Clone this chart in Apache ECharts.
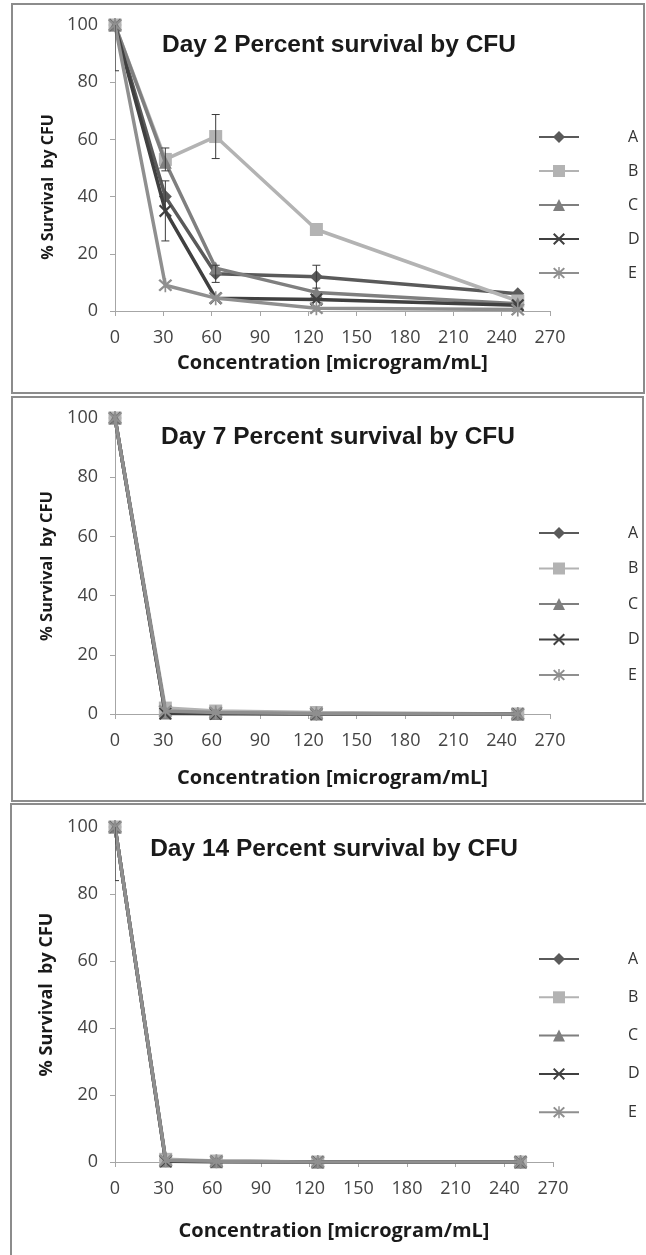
<!DOCTYPE html>
<html>
<head>
<meta charset="utf-8">
<script src="https://cdn.jsdelivr.net/npm/echarts@6/dist/echarts.min.js"></script>
<style>
  html, body { margin: 0; padding: 0; background: #fff; }
  #chart { width: 646px; height: 1255px; }
</style>
</head>
<body>
<div id="chart"></div>
<script>
  // concentration steps (microgram/mL)
  var conc = [0, 31.25, 62.5, 125, 250];
  var names = ['A', 'B', 'C', 'D', 'E'];

  // day 2
  var day2A = [100, 40, 13, 12, 6];
  var day2B = [100, 53, 61, 28.5, 3.5];
  var day2C = [100, 52, 15, 6.5, 2.5];
  var day2D = [100, 35, 4.5, 4, 2];
  var day2E = [100, 9, 4.5, 1, 0.5];
  var day2ErrA = [16, 0, 3, 4, 0];
  var day2ErrB = [0, 4, 7.7, 0, 0];
  var day2ErrD = [0, 10.5, 0, 0, 0];

  // day 7
  var day7A = [100, 0.5, 0.3, 0, 0];
  var day7B = [100, 2, 1, 0.5, 0];
  var day7C = [100, 0.3, 0.2, 0, 0];
  var day7D = [100, 0.2, 0.1, 0, 0];
  var day7E = [100, 1, 0.5, 0.2, 0];

  // day 14
  var day14A = [100, 0.5, 0.2, 0, 0];
  var day14B = [100, 0.8, 0.3, 0, 0];
  var day14C = [100, 0.3, 0.1, 0, 0];
  var day14D = [100, 0.2, 0.1, 0, 0];
  var day14E = [100, 0.5, 0.2, 0, 0];
  var day14ErrA = [16, 0, 0, 0, 0];

  var colors = ['#5a5a5a', '#b3b3b3', '#7f7f7f', '#404040', '#8f8f8f'];
  var xShape = 'path://M0,1.2L1.2,0L5,3.8L8.8,0L10,1.2L6.2,5L10,8.8L8.8,10L5,6.2L1.2,10L0,8.8L3.8,5Z';
  var starShape = 'path://M0,1.2L1.2,0L5,3.8L8.8,0L10,1.2L6.2,5L10,8.8L8.8,10L5,6.2L1.2,10L0,8.8L3.8,5Z' +
    'M4.4,-0.5L5.6,-0.5L5.6,10.5L4.4,10.5Z';
  var symbols = ['diamond', 'rect', 'triangle', xShape, starShape];
  var symSizes = [13, 13, 13, 13, 14];

  var panels = [
    {title: 'Day 2 Percent survival by CFU', top: 25, height: 286, width: 435, titleTop: 28, titleLeft: 334,
      data: [day2A, day2B, day2C, day2D, day2E], err: [day2ErrA, day2ErrB, null, day2ErrD, null],
      legendTop: 124, legendGap: 18, yNameSize: 16, yNamePad: [0, 38, 0, 0], xNameGap: 42},
    {title: 'Day 7 Percent survival by CFU', top: 418, height: 296, width: 435, titleTop: 420, titleLeft: 333,
      data: [day7A, day7B, day7C, day7D, day7E], err: [null, null, null, null, null],
      legendTop: 520, legendGap: 19.5, yNameSize: 16.5, yNamePad: 0, xNameGap: 54},
    {title: 'Day 14 Percent survival by CFU', top: 827, height: 335, width: 438, titleTop: 832, titleLeft: 329,
      data: [day14A, day14B, day14C, day14D, day14E], err: [day14ErrA, null, null, null, null],
      legendTop: 946, legendGap: 22.3, yNameSize: 18, yNamePad: 0, xNameGap: 59}
  ];

  function renderErr(params, api) {
    var x = api.value(0);
    var p1 = api.coord([x, api.value(2)]);
    var p2 = api.coord([x, api.value(1)]);
    var w = 4;
    var st = {stroke: '#3a3a3a', lineWidth: 1};
    return {
      type: 'group',
      children: [
        {type: 'line', shape: {x1: p1[0], y1: p1[1], x2: p2[0], y2: p2[1]}, style: st},
        {type: 'line', shape: {x1: p1[0] - w, y1: p1[1], x2: p1[0] + w, y2: p1[1]}, style: st},
        {type: 'line', shape: {x1: p2[0] - w, y1: p2[1], x2: p2[0] + w, y2: p2[1]}, style: st}
      ]
    };
  }

  var option = {
    animation: false,
    backgroundColor: '#fff',
    title: [], legend: [], grid: [], xAxis: [], yAxis: [], series: [],
    graphic: [
      {type: 'rect', shape: {x: 12, y: 4, width: 632, height: 389}, style: {fill: 'none', stroke: '#8c8c8c', lineWidth: 2}},
      {type: 'rect', shape: {x: 12, y: 397, width: 631, height: 404}, style: {fill: 'none', stroke: '#8c8c8c', lineWidth: 2}},
      {type: 'polyline', shape: {points: [[11, 1260], [11, 804], [650, 804]]}, style: {fill: 'none', stroke: '#8c8c8c', lineWidth: 2}}
    ]
  };

  panels.forEach(function (p, g) {
    option.title.push({
      text: p.title, left: p.titleLeft, top: p.titleTop, textAlign: 'center',
      textStyle: {fontFamily: 'Liberation Sans', fontWeight: 'bold', fontSize: 24.5, color: '#1a1a1a'}
    });
    option.legend.push({
      data: names, orient: 'vertical', left: 533, top: p.legendTop,
      itemWidth: 40, itemHeight: 15, itemGap: p.legendGap,
      textStyle: {fontFamily: 'Open Sans', fontSize: 16, color: '#333', padding: [0, 0, 0, 44], lineHeight: 16}
    });
    option.grid.push({left: 115, top: p.top, width: p.width, height: p.height, containLabel: false});
    option.xAxis.push({
      gridIndex: g, type: 'value', min: 0, max: 270, interval: 30,
      name: 'Concentration [microgram/mL]', nameLocation: 'middle', nameGap: p.xNameGap,
      nameTextStyle: {fontFamily: 'Open Sans', fontWeight: 'bold', fontSize: 20, color: '#1a1a1a'},
      axisLine: {lineStyle: {color: '#a6a6a6', width: 1}},
      axisTick: {show: true, length: 5, lineStyle: {color: '#a6a6a6'}},
      axisLabel: {fontFamily: 'Open Sans', fontSize: 18, color: '#444', margin: 18},
      splitLine: {show: false}
    });
    option.yAxis.push({
      gridIndex: g, type: 'value', min: 0, max: 100, interval: 20,
      name: '% Survival  by CFU', nameLocation: 'middle', nameGap: 55,
      nameTextStyle: {fontFamily: 'Open Sans', fontWeight: 'bold', fontSize: p.yNameSize, color: '#1a1a1a', padding: p.yNamePad},
      axisLine: {show: true, lineStyle: {color: '#a6a6a6', width: 1}},
      axisTick: {show: true, length: 5, lineStyle: {color: '#a6a6a6'}},
      axisLabel: {fontFamily: 'Open Sans', fontSize: 18, color: '#444', margin: 17},
      splitLine: {show: false}
    });
    p.data.forEach(function (vals, s) {
      option.series.push({
        name: names[s], type: 'line', xAxisIndex: g, yAxisIndex: g,
        data: conc.map(function (c, i) { return [c, vals[i]]; }),
        symbol: symbols[s], symbolSize: symSizes[s],
        lineStyle: {color: colors[s], width: 3.5},
        itemStyle: {color: colors[s]},
        z: 2 + s
      });
      var err = p.err[s];
      if (err) {
        var ed = [];
        err.forEach(function (e, i) {
          if (e > 0) ed.push([conc[i], vals[i] - e, vals[i] + e]);
        });
        option.series.push({
          name: 'err' + g + s, type: 'custom', xAxisIndex: g, yAxisIndex: g,
          renderItem: renderErr, data: ed, clip: true, z: 10, silent: true
        });
      }
    });
  });

  var chart = echarts.init(document.getElementById('chart'), null, {renderer: 'canvas'});
  chart.setOption(option);
</script>
</body>
</html>
